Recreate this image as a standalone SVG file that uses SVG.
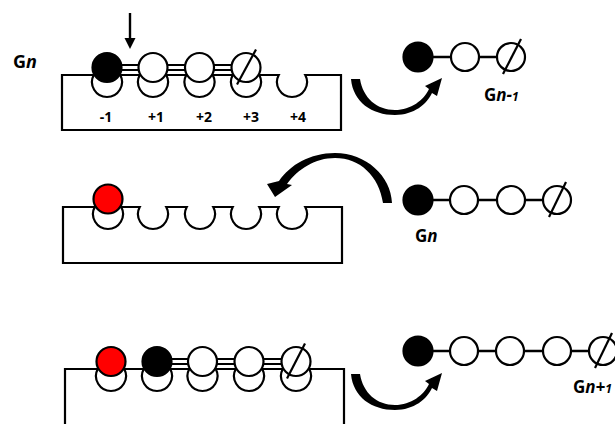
<svg xmlns="http://www.w3.org/2000/svg" width="615" height="424" viewBox="0 0 615 424">
<style>
.box{fill:#fff;stroke:#000;stroke-width:2.2}
.b{stroke:#000;stroke-width:2.2}
.w{fill:#fff}
.k{fill:#000}
.r{fill:#f00}
.dl{stroke:#000;stroke-width:1.8;fill:none}
.sl{stroke:#000;stroke-width:2.6;fill:none}
.sl2{stroke:#000;stroke-width:2.2;fill:none}
.t{font-family:"Open Sans","Liberation Sans",sans-serif;font-weight:bold;fill:#000}
.arr{fill:#000}
</style>
<rect width="615" height="424" fill="#fff"/>

<!-- Top panel -->
<g id="ribosome-top">
<path class="box" d="M62 75 H93.73 A15 15 0 1 0 120.27 75 H139.73 A15 15 0 1 0 166.27 75 H186.23 A15 15 0 1 0 212.77 75 H232.73 A15 15 0 1 0 259.27 75 H278.73 A15 15 0 1 0 305.27 75 H341 V130 H62 Z"/>
<text class="t" font-size="14" text-anchor="middle" x="106" y="122">-1</text>
<text class="t" font-size="14" text-anchor="middle" x="156" y="122">+1</text>
<text class="t" font-size="14" text-anchor="middle" x="204" y="122">+2</text>
<text class="t" font-size="14" text-anchor="middle" x="251" y="122">+3</text>
<text class="t" font-size="14" text-anchor="middle" x="298" y="122">+4</text>
</g>
<g id="label-gn-top"><text class="t" font-size="18" x="13" y="68">G<tspan font-style="italic">n</tspan></text></g>
<g id="arrow-down">
<line x1="130" y1="13" x2="130" y2="40" stroke="#000" stroke-width="2.4"/>
<path class="arr" d="M124.5 38 L135.5 38 L130 49 Z"/>
</g>

<g id="connectors">
<!-- top panel double bonds -->
<line class="dl" x1="107" y1="65" x2="246" y2="65"/>
<line class="dl" x1="107" y1="70" x2="246" y2="70"/>
<!-- bottom panel double bonds -->
<line class="dl" x1="157" y1="359" x2="296" y2="359"/>
<line class="dl" x1="157" y1="364" x2="296" y2="364"/>
<!-- right chains -->
<line class="sl" x1="418" y1="57" x2="511" y2="57"/>
<line class="sl" x1="418" y1="200" x2="557" y2="200"/>
<line class="sl" x1="418" y1="351" x2="603" y2="351"/>
<!-- curved arrows -->
<path class="arr" d="M351 79 C353 102 372 115 395 115 C414 115 427 104 432 93 L437 96 L442 78 L425 86 L429 89 C424 100 411 110 395 110 C377 110 363 98 360 79 Z"/>
<path class="arr" d="M392 203 C391 176 366 153 335 153 C310 153 290 165 279 181 L267 184 L275 197 L292 185 L287 184 C298 169 315 158 335 158 C360 158 379 176 383 203 Z"/>
<path class="arr" transform="translate(0,295)" d="M351 79 C353 102 372 115 395 115 C414 115 427 104 432 93 L437 96 L442 78 L425 86 L429 89 C424 100 411 110 395 110 C377 110 363 98 360 79 Z"/>
</g>

<!-- top panel beads -->
<g id="t-m1"><circle class="b k" cx="107" cy="67.5" r="14.5"/></g>
<g id="t-p1"><circle class="b w" cx="153" cy="67.5" r="14.5"/></g>
<g id="t-p2"><circle class="b w" cx="199.5" cy="67.5" r="14.5"/></g>
<g id="t-p3"><circle class="b w" cx="246" cy="67.5" r="14.5"/><line class="sl2" x1="256" y1="49.5" x2="237" y2="84.5"/></g>

<!-- top right chain Gn-1 -->
<g id="c1-1"><circle class="b k" cx="418" cy="57" r="14.5"/></g>
<g id="c1-2"><circle class="b w" cx="465" cy="57" r="14"/></g>
<g id="c1-3"><circle class="b w" cx="511" cy="57" r="14"/><line class="sl2" x1="521" y1="39" x2="503" y2="74"/></g>
<g id="label-gn-1"><text class="t" font-size="17" x="484" y="100.5">G<tspan font-style="italic">n-</tspan><tspan font-style="italic" font-size="12">1</tspan></text></g>

<!-- middle panel -->
<g id="ribosome-mid">
<path class="box" d="M63 207 H94.73 A15 15 0 1 0 121.27 207 H139.73 A15 15 0 1 0 166.27 207 H186.73 A15 15 0 1 0 213.27 207 H232.73 A15 15 0 1 0 259.27 207 H278.73 A15 15 0 1 0 305.27 207 H342 V263 H63 Z"/>
</g>
<g id="m-red"><circle class="b r" cx="108" cy="199" r="14.5"/></g>

<g id="c2-1"><circle class="b k" cx="418" cy="200" r="14.5"/></g>
<g id="c2-2"><circle class="b w" cx="464" cy="200" r="14"/></g>
<g id="c2-3"><circle class="b w" cx="511" cy="200" r="14"/></g>
<g id="c2-4"><circle class="b w" cx="557" cy="200" r="14"/><line class="sl2" x1="566" y1="182" x2="549" y2="217"/></g>
<g id="label-gn-mid"><text class="t" font-size="17" x="415" y="241.5">G<tspan font-style="italic">n</tspan></text></g>

<!-- bottom panel -->
<g id="ribosome-bot">
<path class="box" d="M65 430 V369 H97.73 A15 15 0 1 0 124.27 369 H143.73 A15 15 0 1 0 170.27 369 H189.23 A15 15 0 1 0 215.77 369 H235.73 A15 15 0 1 0 262.27 369 H282.73 A15 15 0 1 0 309.27 369 H344 V430"/>
</g>
<g id="b-red"><circle class="b r" cx="111" cy="361.5" r="14.5"/></g>
<g id="b-k"><circle class="b k" cx="157" cy="361.5" r="14.5"/></g>
<g id="b-w1"><circle class="b w" cx="202.5" cy="361.5" r="14.5"/></g>
<g id="b-w2"><circle class="b w" cx="249" cy="361.5" r="14.5"/></g>
<g id="b-w3"><circle class="b w" cx="296" cy="361.5" r="14.5"/><line class="sl2" x1="305" y1="343.5" x2="287" y2="378.5"/></g>

<g id="c3-1"><circle class="b k" cx="418" cy="351" r="14.5"/></g>
<g id="c3-2"><circle class="b w" cx="464" cy="351" r="14"/></g>
<g id="c3-3"><circle class="b w" cx="510" cy="351" r="14"/></g>
<g id="c3-4"><circle class="b w" cx="557" cy="351" r="14"/></g>
<g id="c3-5"><circle class="b w" cx="603" cy="351" r="14"/><line class="sl2" x1="612" y1="333" x2="595" y2="368"/></g>
<g id="label-gn+1"><text class="t" font-size="17" x="573" y="393">G<tspan font-style="italic">n+</tspan><tspan font-style="italic" font-size="12">1</tspan></text></g>
</svg>
